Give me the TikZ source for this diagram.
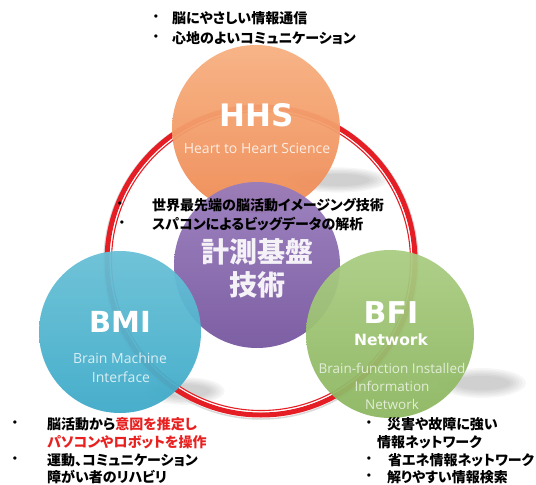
\documentclass[tikz,border=0pt]{standalone}
\usepackage{fontspec}
\setmainfont{Liberation Sans}
\newfontfamily\cjk{Noto Sans CJK JP}[CharacterWidth=AlternateProportional]
\newfontfamily\osans{Open Sans}
\newfontfamily\dejab{DejaVu Sans}
\definecolor{ringred}{RGB}{228,30,36}
\definecolor{tred}{RGB}{232,32,32}
\definecolor{hhsA}{RGB}{247,176,128}
\definecolor{hhsB}{RGB}{238,138,84}
\definecolor{purA}{RGB}{152,124,188}
\definecolor{purB}{RGB}{118,86,158}
\definecolor{bmiA}{RGB}{104,192,214}
\definecolor{bmiB}{RGB}{62,170,200}
\definecolor{bfiA}{RGB}{170,204,130}
\definecolor{bfiB}{RGB}{140,182,96}
\begin{document}
\begin{tikzpicture}[x=1pt,y=-1pt,
  disc/.style={circle, inner sep=0pt, draw=none, fill opacity=0.95},
  jtext/.style={anchor=west, inner sep=0pt, font=\cjk\bfseries\fontsize{14}{14}\selectfont},
  bul/.style={inner sep=0pt, font=\fontsize{12}{12}\selectfont},
  bigL/.style={inner sep=0pt, text=white, font=\dejab\bfseries\fontsize{30}{30}\selectfont},
  subL/.style={inner sep=0pt, font=\osans\fontsize{14}{14}\selectfont}]
\useasboundingbox (0,0) rectangle (536,485);
% soft shadows
\foreach \cx/\cy/\rx/\ry in {338/180/46/11, 185/391/36/12, 482/383/40/13}{
  \foreach \k in {0,...,5}{
    \fill[black!60, opacity=0.06] (\cx,\cy) ellipse [x radius={\rx*(1.1-0.08*\k)*1pt}, y radius={\ry*(1.15-0.12*\k)*1pt}];
  }
}
% ring
\draw[black!15, line width=1.5pt] (261,262) circle [radius=157pt];
\draw[ringred, line width=5pt] (261,261) circle [radius=154pt];
\draw[white, line width=0.9pt] (261,261) circle [radius=150.6pt];
\draw[ringred, line width=1.1pt] (261,261) circle [radius=149.5pt];
% discs
\node[disc, minimum size=168pt, top color=hhsA, bottom color=hhsB] (hhs) at (256,129) {};
\node[disc, minimum size=166pt, top color=purA, bottom color=purB] (kei) at (257,265) {};
\node[disc, minimum size=162pt, top color=bmiA, bottom color=bmiB] (bmi) at (120,332) {};
\node[disc, minimum size=168pt, top color=bfiA, bottom color=bfiB] (bfi) at (390,334) {};
% disc labels
\node[bigL, font=\dejab\bfseries\fontsize{31}{31}\selectfont] (hhsT) at (257,115) {HHS};
\node[subL, text=white!85!hhsB] (hhsS) at (257,148) {Heart to Heart Science};
\node[inner sep=0pt, text=white!92!purB, font=\cjk\bfseries\fontsize{28}{28}\selectfont] (keiT1) at (257,252) {計測基盤};
\node[inner sep=0pt, text=white!92!purB, font=\cjk\bfseries\fontsize{28}{28}\selectfont] (keiT2) at (257,285) {技術};
\node[bigL, font=\dejab\bfseries\fontsize{29}{29}\selectfont] (bmiT) at (120,322) {BMI};
\node[subL, text=white!80!bmiB] (bmiS1) at (120,358) {Brain Machine};
\node[subL, text=white!80!bmiB] (bmiS2) at (121,377) {Interface};
\node[bigL] (bfiT) at (391,313) {BFI};
\node[inner sep=0pt, text=white, font=\dejab\bfseries\fontsize{15.5}{15.5}\selectfont] (bfiN) at (391,340) {Network};
\node[subL, text=white!75!bfiB, font=\osans\fontsize{13.5}{13.5}\selectfont] (bfiS1) at (392,368) {Brain-function Installed};
\node[subL, text=white!75!bfiB, font=\osans\fontsize{13.5}{13.5}\selectfont] (bfiS2) at (392,386) {Information};
\node[subL, text=white!75!bfiB, font=\osans\fontsize{13.5}{13.5}\selectfont] (bfiS3) at (392,404) {Network};
% top bullets
\node[bul] (b1) at (156,18) {•};
\node[jtext] (t1) at (172,18) {脳にやさしい情報通信};
\node[bul] (b2) at (156,38) {•};
\node[jtext] (t2) at (172,38) {心地のよいコミュニケーション};
% middle bullets
\node[bul] (b3) at (120,205) {•};
\node[jtext] (t3) at (152,205) {世界最先端の脳活動イメージング技術};
\node[bul] (b4) at (122,224) {•};
\node[jtext] (t4) at (152,224) {スパコンによるビッグデータの解析};
% bottom-left
\node[bul] (b5) at (15,424) {•};
\node[jtext] (t5) at (47,424) {脳活動から\textcolor{tred}{意図を推定し}};
\node[jtext, text=tred] (t6) at (47,442) {パソコンやロボットを操作};
\node[bul] (b6) at (15,460) {•};
\node[jtext] (t7) at (47,460) {運動、コミュニケーション};
\node[jtext] (t8) at (47,477) {障がい者のリハビリ};
% bottom-right
\node[bul] (b7) at (369,424) {•};
\node[jtext] (t9) at (387,424) {災害や故障に強い};
\node[jtext] (t10) at (377,442) {情報ネットワーク};
\node[bul] (b8) at (369,460) {•};
\node[jtext] (t11) at (388,460) {省エネ情報ネットワーク};
\node[bul] (b9) at (369,477) {•};
\node[jtext] (t12) at (387,477) {解りやすい情報検索};
\end{tikzpicture}
\end{document}
